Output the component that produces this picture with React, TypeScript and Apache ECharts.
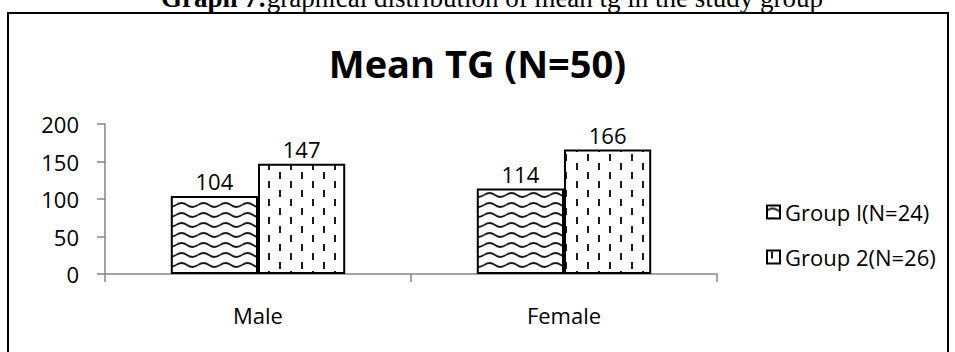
import React, { useEffect, useRef } from 'react';
import * as echarts from 'echarts';

const categories = ['Male', 'Female'];
const group1Values = [104, 114];
const group2Values = [147, 166];
const seriesNames = ['Group I(N=24)', 'Group 2(N=26)'];
const yMin = 0;
const yMax = 200;
const yInterval = 50;
const chartTitle = 'Mean TG (N=50)';
const captionBold = 'Graph 7:';
const captionText = 'graphical distribution of mean tg in the study group';

const FONT = '"Open Sans", "Noto Sans", sans-serif';
const SERIF = '"Liberation Serif", "DejaVu Serif", serif';

function svgUrl(svg: string) {
  return 'data:image/svg+xml;charset=utf-8,' + encodeURIComponent(svg);
}

const waveSvg =
  '<svg xmlns="http://www.w3.org/2000/svg" width="22" height="10">' +
  '<rect width="22" height="10" fill="#ffffff"/>' +
  '<path d="M0 5 Q5.5 1 11 5 T22 5" fill="none" stroke="#1a1a1a" stroke-width="1.8"/>' +
  '</svg>';

const dashSvg =
  '<svg xmlns="http://www.w3.org/2000/svg" width="22" height="18">' +
  '<rect width="22" height="18" fill="#ffffff"/>' +
  '<rect x="4" y="1" width="2" height="7" fill="#1a1a1a"/>' +
  '<rect x="15" y="10" width="2" height="7" fill="#1a1a1a"/>' +
  '</svg>';

export default function App() {
  const ref = useRef<HTMLDivElement>(null);

  useEffect(() => {
    if (!ref.current) return;
    const chart = echarts.init(ref.current, null, { renderer: 'svg' });

    const wavePattern: any = { image: svgUrl(waveSvg), repeat: 'repeat', imageWidth: 22, imageHeight: 10 };
    const dashPattern: any = { image: svgUrl(dashSvg), repeat: 'repeat', imageWidth: 22, imageHeight: 18 };

    const labelStyle = {
      show: true,
      position: 'top' as const,
      distance: 4,
      fontSize: 22,
      fontFamily: FONT,
      color: '#000',
    };

    chart.setOption({
      animation: false,
      backgroundColor: '#fff',
      title: {
        text: chartTitle,
        left: 'center',
        top: 39,
        textStyle: { fontSize: 38, fontWeight: 'bold', fontFamily: FONT, color: '#000' },
      },
      graphic: [
        {
          type: 'rect',
          silent: true,
          shape: { x: 8, y: 13, width: 940, height: 400 },
          style: { fill: 'none', stroke: '#000', lineWidth: 2 },
        },
        {
          type: 'text',
          silent: true,
          x: 492,
          y: -2,
          style: {
            text: '{b|' + captionBold + '}' + captionText,
            align: 'center',
            verticalAlign: 'middle',
            fontFamily: SERIF,
            fontSize: 27,
            fill: '#000',
            rich: {
              b: { fontWeight: 'bold', fontFamily: SERIF, fontSize: 27 },
            },
          },
        },
      ],
      legend: {
        data: seriesNames,
        orient: 'vertical',
        left: 761,
        top: 196,
        itemWidth: 13,
        itemHeight: 13,
        itemGap: 23,
        icon: 'rect',
        textStyle: { fontSize: 22, fontFamily: FONT, color: '#000' },
      },
      grid: { left: 105, right: 238, top: 124, bottom: 78, containLabel: false },
      xAxis: {
        type: 'category',
        data: categories,
        axisLine: { show: true, lineStyle: { color: '#868686', width: 1.5 } },
        axisTick: { show: true, length: 8, lineStyle: { color: '#868686', width: 1.5 } },
        axisLabel: { fontSize: 22, fontFamily: FONT, color: '#000', margin: 30 },
      },
      yAxis: {
        type: 'value',
        min: yMin,
        max: yMax,
        interval: yInterval,
        axisLine: { show: true, lineStyle: { color: '#868686', width: 1.5 } },
        axisTick: { show: true, length: 8, lineStyle: { color: '#868686', width: 1.5 } },
        axisLabel: { fontSize: 22, fontFamily: FONT, color: '#000', margin: 26 },
        splitLine: { show: false },
      },
      series: [
        {
          name: seriesNames[0],
          type: 'bar',
          data: group1Values,
          barGap: '0%',
          barCategoryGap: '43%',
          itemStyle: { color: wavePattern, borderColor: '#000', borderWidth: 2 },
          label: labelStyle,
        },
        {
          name: seriesNames[1],
          type: 'bar',
          data: group2Values,
          barGap: '0%',
          barCategoryGap: '43%',
          itemStyle: { color: dashPattern, borderColor: '#000', borderWidth: 2 },
          label: labelStyle,
        },
      ],
    });

    return () => chart.dispose();
  }, []);

  return (
    <div
      ref={ref}
      style={{ position: 'absolute', left: 0, top: 0, width: 955, height: 352 }}
    />
  );
}
